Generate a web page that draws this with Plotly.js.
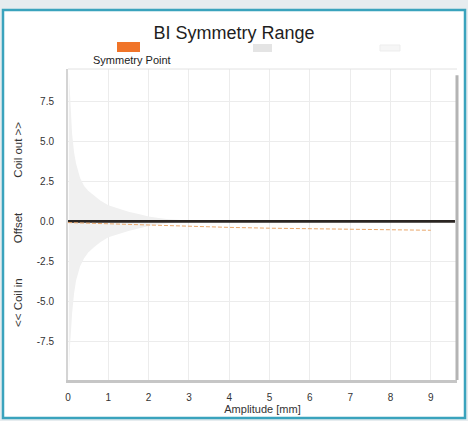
<!DOCTYPE html>
<html>
<head>
<meta charset="utf-8">
<script src="https://cdn.plot.ly/plotly-3.0.1.min.js"></script>
<style>html,body{margin:0;padding:0;background:#e6ecef;}#chart{width:468px;height:421px;}</style>
</head>
<body>
<div id="chart"></div>
<script>
// Envelope of symmetry range (grey band)
const envX     = [0.02, 0.05, 0.1, 0.15, 0.2, 0.3, 0.4, 0.5, 0.65, 0.8, 1.0, 1.25, 1.5, 1.75, 2.0, 2.25, 2.5, 3.0];
const envUpper = [9.4, 7.5, 5.5, 4.3, 3.6, 2.7, 2.2, 1.9, 1.6, 1.3, 1.0, 0.8, 0.6, 0.45, 0.3, 0.2, 0.12, 0.05];
const envLower = [-9.9, -7.8, -5.8, -4.5, -3.7, -2.8, -2.3, -1.95, -1.6, -1.3, -1.0, -0.8, -0.6, -0.45, -0.3, -0.2, -0.12, -0.05];
// Zero offset reference line
const zeroX = [0, 1, 2, 3, 4, 5, 6, 7, 8, 9, 9.6];
const zeroY = [0, 0, 0, 0, 0, 0, 0, 0, 0, 0, 0];
// Symmetry point
const symX = [0, 0.5, 1, 1.5, 2, 2.5, 3, 4, 5, 6, 7, 8, 9];
const symY = [-0.08, -0.12, -0.16, -0.2, -0.25, -0.3, -0.33, -0.38, -0.43, -0.47, -0.5, -0.53, -0.56];
// Ticks
const xTicks = [0, 1, 2, 3, 4, 5, 6, 7, 8, 9];
const yTicks = [-7.5, -5.0, -2.5, 0.0, 2.5, 5.0, 7.5];
const yTickText = ["-7.5", "-5.0", "-2.5", "0.0", "2.5", "5.0", "7.5"];

const traces = [
  {x: envX, y: envLower, mode: 'lines', line: {width: 0, color: '#efefef'}, showlegend: false, hoverinfo: 'skip'},
  {x: envX, y: envUpper, mode: 'lines', fill: 'tonexty', fillcolor: '#f0f0f0', line: {width: 0, color: '#efefef'}, showlegend: false, hoverinfo: 'skip'},
  {x: zeroX, y: zeroY, mode: 'lines', line: {color: '#2a2522', width: 2.8}, showlegend: false},
  {x: symX, y: symY, mode: 'lines', name: 'Symmetry Point', line: {color: '#eaa86c', width: 1, dash: '4px,2px'}, showlegend: false}
];

const S = '\u00a0';
const sp = S.repeat(11);
const layout = {
  width: 468, height: 421,
  margin: {l: 68, r: 11, t: 69, b: 41},
  paper_bgcolor: '#e6ecef',
  plot_bgcolor: '#ffffff',
  font: {family: 'Liberation Sans, Arial, sans-serif', color: '#333333', size: 10},
  title: {text: 'BI Symmetry Range', font: {size: 18, color: '#1e1e1e'}, x: 0.5, xref: 'container', y: 1 - 33/421, yref: 'container', yanchor: 'middle'},
  showlegend: false,
  xaxis: {
    range: [0, 9.65], tickvals: xTicks, ticktext: xTicks.map(String),
    showgrid: true, gridcolor: '#ececec', gridwidth: 1, zeroline: false,
    showline: true, linecolor: '#c6c6c6', linewidth: 3,
    ticks: 'outside', ticklen: 6, tickcolor: 'rgba(0,0,0,0)',
    tickfont: {size: 10, color: '#333'},
    title: {text: 'Amplitude [mm]', font: {size: 11, color: '#333'}, standoff: 0}
  },
  yaxis: {
    range: [-9.9, 9.5], tickvals: yTicks, ticktext: yTickText,
    showgrid: true, gridcolor: '#ececec', gridwidth: 1, zeroline: false,
    showline: true, linecolor: '#d4d4d4', linewidth: 2,
    ticks: 'outside', ticklen: 10, tickcolor: 'rgba(0,0,0,0)',
    tickfont: {size: 10, color: '#333'},
    title: {text: '<<' + S + 'Coil' + S + 'in' + sp + 'Offset' + sp + 'Coil' + S + 'out' + S + '>>' + S.repeat(4), font: {size: 11.5, color: '#333'}, standoff: 12}
  },
  shapes: [
    {type: 'rect', xref: 'paper', yref: 'paper', layer: 'below',
     x0: (3-68)/389, x1: (465-68)/389, y0: (380-418)/311, y1: (380-10)/311,
     fillcolor: '#ffffff', line: {color: '#3aa3bd', width: 2.5}},
    {type: 'line', xref: 'paper', yref: 'paper', x0: 1, x1: 1, y0: 0, y1: 0.98, line: {color: '#b4b4b4', width: 3}},
    {type: 'line', xref: 'paper', yref: 'paper', x0: 0, x1: 1, y0: 1, y1: 1, line: {color: '#e2e2e2', width: 1}},
    {type: 'rect', xref: 'paper', yref: 'paper', x0: (117-68)/389, x1: (140-68)/389, y0: (380-52)/311, y1: (380-42)/311,
     fillcolor: '#f07428', line: {width: 0}},
    {type: 'rect', xref: 'paper', yref: 'paper', x0: (253-68)/389, x1: (272-68)/389, y0: (380-52)/311, y1: (380-44)/311,
     fillcolor: '#e4e4e4', line: {width: 0}},
    {type: 'rect', xref: 'paper', yref: 'paper', x0: (380-68)/389, x1: (400-68)/389, y0: (380-51)/311, y1: (380-45)/311,
     fillcolor: '#f6f6f6', line: {color: '#ededed', width: 1}}
  ],
  annotations: [
    {text: 'Symmetry Point', xref: 'paper', yref: 'paper', x: (132-68)/389, y: (380-60)/311,
     showarrow: false, font: {size: 11, color: '#222'}, xanchor: 'center', yanchor: 'middle'}
  ]
};

Plotly.newPlot('chart', traces, layout, {displayModeBar: false, staticPlot: true});
</script>
</body>
</html>
